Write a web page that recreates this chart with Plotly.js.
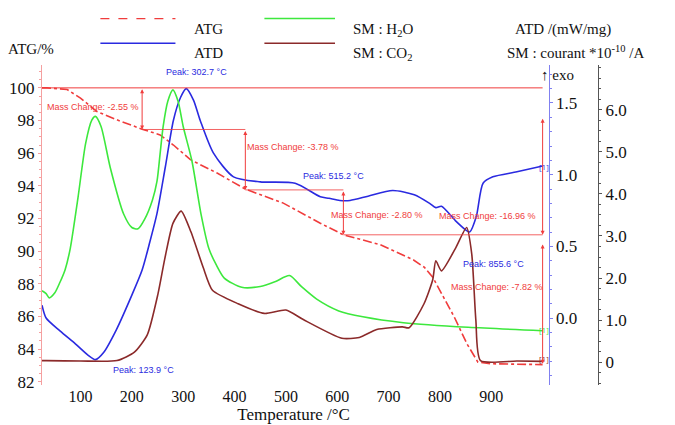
<!DOCTYPE html>
<html><head><meta charset="utf-8">
<script src="https://cdn.plot.ly/plotly-3.0.1.min.js"></script>
<style>body{margin:0;background:#fff}#c{width:675px;height:425px}</style>
</head><body><div id="c"></div>
<script>
// ATG (%)
const atgT = [25,35,74,100,132,171,220,255,281,314,366,421,495,567,612,683,748,770,786,828,853,874,900,950,1000];
const atgV = [100,100,99.9,99.37,98.55,98.04,97.47,97.12,96.5,95.6,94.78,93.8,92.94,91.71,91.0,90.4,89.47,89.0,88.4,85.96,84.3,83.2,83.1,83.07,83.05];
// ATD (mW/mg)
const atdT = [25,33,60,90,115,129,145,170,200,220,235,249,265,281,295,306,320,333,359,398,450,518,567,584,605,625,660,708,750,780,792,803,830,852,858,871,884,903,950,1000];
const atdV = [0.09,0.0,-0.09,-0.18,-0.26,-0.29,-0.24,-0.08,0.16,0.335,0.53,0.73,1.05,1.38,1.54,1.60,1.52,1.38,1.15,0.985,0.95,0.94,0.846,0.835,0.82,0.82,0.85,0.89,0.86,0.80,0.77,0.78,0.68,0.61,0.60,0.71,0.94,0.985,1.02,1.06];
// SM : H2O
const h2oT = [25,33,39,50,60,70,80,95,110,122,129,140,158,184,200,212,225,240,249,255,261,270,280,290,300,317,335,350,365,380,414,450,480,507,530,560,603,650,729,855,1000];
const h2oV = [1.7,1.63,1.53,1.65,1.9,2.2,2.7,3.9,5.2,5.75,5.84,5.6,4.62,3.52,3.2,3.17,3.4,3.85,4.3,4.95,5.6,6.2,6.47,6.2,5.6,4.78,3.5,2.7,2.3,2.0,1.78,1.8,1.92,2.06,1.8,1.5,1.22,1.08,0.94,0.83,0.75];
// SM : CO2
const co2T = [25,33,100,171,205,230,251,264,280,296,315,339,357,407,458,500,533,609,643,677,727,740,769,786,792,803,830,852,862,870,879,950,1000];
const co2V = [0.04,0.04,0.03,0.04,0.24,0.65,1.63,2.45,3.3,3.59,3.1,2.25,1.71,1.39,1.16,1.24,1.02,0.57,0.59,0.78,0.84,0.82,1.39,1.96,2.41,2.17,2.7,3.2,2.57,1.0,0.04,0.03,0.02];
// step reference levels
const levT = [220,421,612,1000];
const levV = [97.45,93.75,91.0,83.05];
const peakLabels = ["Peak: 123.9 °C","Peak: 302.7 °C","Peak: 515.2 °C","Peak: 855.6 °C"];
const massLabels = ["Mass Change: -2.55 %","Mass Change: -3.78 %","Mass Change: -2.80 %","Mass Change: -16.96 %","Mass Change: -7.82 %"];

const RED='#f03c3c', BLUE='#2a2ae0', GREEN='#3de83d', BROWN='#8b2a2a', PINK='#f5a0a0';
const traces = [
 {x:atgT,y:atgV,type:'scatter',mode:'lines',line:{color:RED,width:1.6,dash:'dashdot'},yaxis:'y'},
 {x:atdT,y:atdV,type:'scatter',mode:'lines',line:{color:BLUE,width:1.6,shape:'spline',smoothing:0.7},yaxis:'y2'},
 {x:h2oT,y:h2oV,type:'scatter',mode:'lines',line:{color:GREEN,width:1.6,shape:'spline',smoothing:0.7},yaxis:'y3'},
 {x:co2T,y:co2V,type:'scatter',mode:'lines',line:{color:BROWN,width:1.6,shape:'spline',smoothing:0.6},yaxis:'y3'}
];
const L = (x0,y0,x1,y1,c,w,xr,yr,d)=>({type:'line',x0,y0,x1,y1,xref:xr||'x',yref:yr||'y',line:{color:c,width:w||1,dash:d||'solid'}});
const shapes = [
 L(25,100,1000,100,RED,1),
 L(levT[0],levV[0],levT[1],levV[0],RED,0.8),
 L(levT[1],levV[1],levT[2],levV[1],RED,0.8),
 L(levT[2],levV[2],levT[3],levV[2],RED,0.8),
 // legend sample lines (paper)
 L(0.105,1.145,0.24,1.145,RED,1.3,'paper','paper','dash'),
 L(0.105,1.068,0.24,1.068,BLUE,1.5,'paper','paper'),
 L(0.40,1.145,0.527,1.145,GREEN,1.5,'paper','paper'),
 L(0.40,1.068,0.527,1.068,BROWN,1.5,'paper','paper')
];
const A = (x,y,t,c,opt)=>Object.assign({x,y,text:t,xref:'x',yref:'y',showarrow:false,xanchor:'left',font:{family:'Liberation Sans, Arial',size:9,color:c}},opt||{});
const arr = (x,y0,y1)=>({x,y:y1,ax:x,ay:y0,xref:'x',yref:'y',axref:'x',ayref:'y',showarrow:true,arrowhead:2,arrowside:'end+start',arrowsize:0.8,arrowwidth:1,arrowcolor:RED,text:''});
const TF = {family:'Liberation Serif, Times New Roman',size:15,color:'#111'};
const P = (x,y,t,o)=>Object.assign({x,y,text:t,xref:'paper',yref:'paper',showarrow:false,xanchor:'left',font:TF},o||{});
const annotations = [
 A(160,82.7,peakLabels[0],BLUE), A(262,100.95,peakLabels[1],BLUE),
 A(530,94.6,peakLabels[2],BLUE), A(842,89.2,peakLabels[3],BLUE),
 A(30,98.8,massLabels[0],RED), A(421,96.4,massLabels[1],RED), A(583,92.2,massLabels[2],RED),
 A(795,92.15,massLabels[3],RED), A(818,87.8,massLabels[4],RED),
 A(990,95.2,'[1]',BLUE,{font:{size:8,color:BLUE}}), A(990,85.2,'[1]',GREEN,{font:{size:8,color:GREEN}}),
 A(990,83.4,'[1]',BROWN,{font:{size:8,color:BROWN}}),
 arr(220,100,97.45), arr(421,97.45,93.75), arr(612,93.75,91.0), arr(1000,98.2,91.0), arr(1000,90.5,83.1),
 P(0.27,1.145,'ATG'), P(0.27,1.068,'ATD'), P(0.555,1.145,'SM : H<sub>2</sub>O'), P(0.555,1.068,'SM : CO<sub>2</sub>'),
 P(-0.065,1.08,'ATG/%'), P(0.847,1.145,'ATD /(mW/mg)'), P(0.832,1.075,'SM : courant *10<sup>-10</sup> /A'),
 P(0.893,1.0,'↑ exo')
];
const layout = {
 width:675,height:425,margin:{l:42,r:77,t:65,b:40},showlegend:false,
 paper_bgcolor:'#fff',plot_bgcolor:'#fff',
 xaxis:{domain:[0,0.905],range:[25,1005],tickvals:[100,200,300,400,500,600,700,800,900],showgrid:false,zeroline:false,
   showline:false,ticks:'',tickfont:{family:'Liberation Serif',size:16,color:'#111'},
   title:{text:'Temperature /°C',font:{family:'Liberation Serif',size:17,color:'#111'},standoff:2}},
 yaxis:{range:[81.8,101.4],tickvals:[82,84,86,88,90,92,94,96,98,100],showgrid:false,zeroline:false,showline:true,linecolor:PINK,
   ticks:'outside',ticklen:3,tickcolor:PINK,minor:{ticks:'outside',ticklen:2,dtick:0.5,tickcolor:PINK},
   tickfont:{family:'Liberation Serif',size:17,color:'#111'}},
 yaxis2:{overlaying:'y',anchor:'free',position:0.911,side:'right',range:[-0.467,1.765],tickvals:[0,0.5,1.0,1.5],ticktext:['0.0','0.5','1.0','1.5'],
   showgrid:false,zeroline:false,showline:true,linecolor:'#8080f0',ticks:'outside',ticklen:3,tickcolor:'#8080f0',
   minor:{ticks:'outside',ticklen:2,dtick:0.1,tickcolor:'#8080f0'},tickfont:{family:'Liberation Serif',size:17,color:'#111'}},
 yaxis3:{overlaying:'y',anchor:'free',position:1,side:'right',range:[-0.54,7.06],tickvals:[0,1,2,3,4,5,6],ticktext:['0','1.0','2.0','3.0','4.0','5.0','6.0'],
   showgrid:false,zeroline:false,showline:true,linecolor:'#555',ticks:'outside',ticklen:3,tickcolor:'#555',
   minor:{ticks:'outside',ticklen:2,dtick:0.25,tickcolor:'#555'},tickfont:{family:'Liberation Serif',size:17,color:'#111'}},
 shapes,annotations
};
Plotly.newPlot('c',traces,layout,{staticPlot:true});
</script></body></html>
